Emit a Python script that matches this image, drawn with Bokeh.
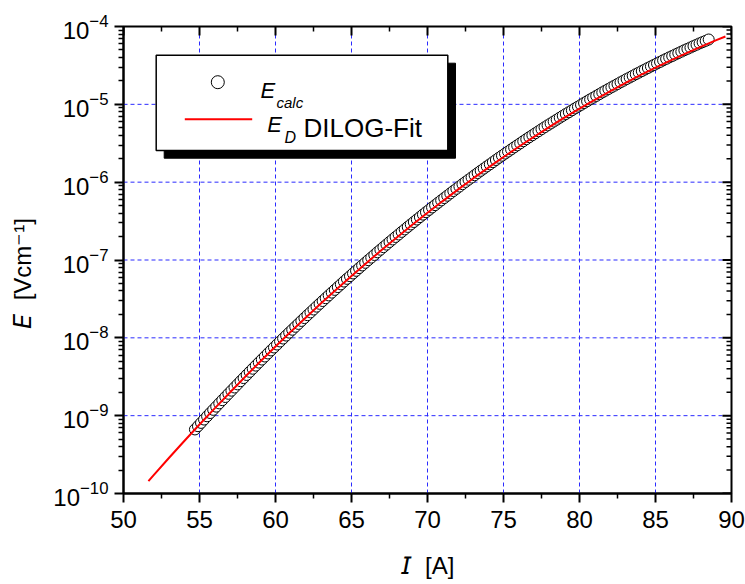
from bokeh.plotting import figure
from bokeh.models import Range1d, LinearScale, FixedTicker, Label
from bokeh.embed import file_html
from bokeh.resources import INLINE

# ---------------- data ----------------
I_calc = [
    54.7, 54.9, 55.1, 55.3, 55.5, 55.7, 55.9, 56.1, 56.3, 56.5,
    56.7, 56.9, 57.1, 57.3, 57.5, 57.7, 57.9, 58.1, 58.3, 58.5,
    58.7, 58.9, 59.1, 59.3, 59.5, 59.7, 59.9, 60.1, 60.3, 60.5,
    60.7, 60.9, 61.1, 61.3, 61.5, 61.7, 61.9, 62.1, 62.3, 62.5,
    62.7, 62.9, 63.1, 63.3, 63.5, 63.7, 63.9, 64.1, 64.3, 64.5,
    64.7, 64.9, 65.1, 65.3, 65.5, 65.7, 65.9, 66.1, 66.3, 66.5,
    66.7, 66.9, 67.1, 67.3, 67.5, 67.7, 67.9, 68.1, 68.3, 68.5,
    68.7, 68.9, 69.1, 69.3, 69.5, 69.7, 69.9, 70.1, 70.3, 70.5,
    70.7, 70.9, 71.1, 71.3, 71.5, 71.7, 71.9, 72.1, 72.3, 72.5,
    72.7, 72.9, 73.1, 73.3, 73.5, 73.7, 73.9, 74.1, 74.3, 74.5,
    74.7, 74.9, 75.1, 75.3, 75.5, 75.7, 75.9, 76.1, 76.3, 76.5,
    76.7, 76.9, 77.1, 77.3, 77.5, 77.7, 77.9, 78.1, 78.3, 78.5,
    78.7, 78.9, 79.1, 79.3, 79.5, 79.7, 79.9, 80.1, 80.3, 80.5,
    80.7, 80.9, 81.1, 81.3, 81.5, 81.7, 81.9, 82.1, 82.3, 82.5,
    82.7, 82.9, 83.1, 83.3, 83.5, 83.7, 83.9, 84.1, 84.3, 84.5,
    84.7, 84.9, 85.1, 85.3, 85.5, 85.7, 85.9, 86.1, 86.3, 86.5,
    86.7, 86.9, 87.1, 87.3, 87.5, 87.7, 87.9, 88.1, 88.3, 88.5,
]
logE_calc = [
    -9.177, -9.135, -9.093, -9.050, -9.008, -8.966, -8.925, -8.884, -8.842, -8.801,
    -8.760, -8.719, -8.679, -8.638, -8.598, -8.557, -8.517, -8.477, -8.437, -8.397,
    -8.357, -8.318, -8.279, -8.240, -8.201, -8.162, -8.124, -8.086, -8.047, -8.009,
    -7.971, -7.933, -7.896, -7.858, -7.821, -7.783, -7.746, -7.709, -7.673, -7.636,
    -7.599, -7.563, -7.527, -7.491, -7.455, -7.419, -7.384, -7.348, -7.313, -7.277,
    -7.242, -7.208, -7.173, -7.139, -7.104, -7.070, -7.036, -7.002, -6.969, -6.935,
    -6.901, -6.868, -6.835, -6.802, -6.769, -6.736, -6.704, -6.672, -6.639, -6.607,
    -6.575, -6.543, -6.512, -6.480, -6.449, -6.417, -6.386, -6.356, -6.325, -6.295,
    -6.264, -6.234, -6.204, -6.174, -6.144, -6.114, -6.085, -6.056, -6.026, -5.997,
    -5.968, -5.940, -5.911, -5.883, -5.854, -5.826, -5.798, -5.771, -5.743, -5.715,
    -5.687, -5.660, -5.633, -5.607, -5.580, -5.553, -5.527, -5.501, -5.474, -5.448,
    -5.422, -5.397, -5.371, -5.346, -5.320, -5.295, -5.270, -5.246, -5.221, -5.197,
    -5.172, -5.148, -5.124, -5.101, -5.077, -5.053, -5.030, -5.007, -4.983, -4.960,
    -4.937, -4.915, -4.892, -4.870, -4.847, -4.825, -4.803, -4.782, -4.760, -4.739,
    -4.717, -4.696, -4.675, -4.655, -4.634, -4.613, -4.593, -4.573, -4.553, -4.533,
    -4.513, -4.494, -4.474, -4.455, -4.435, -4.416, -4.397, -4.379, -4.360, -4.342,
    -4.323, -4.305, -4.287, -4.270, -4.252, -4.234, -4.217, -4.201, -4.184, -4.167,
]
I_fit = [51.64, 52, 53, 54, 55, 56, 57, 58, 59, 60, 61, 62, 63, 64, 65, 66, 67,
         68, 69, 70, 71, 72, 73, 74, 75, 76, 77, 78, 79, 80, 81, 82, 83, 84, 85,
         86, 87, 88, 89, 89.6]
logE_fit = [-9.840, -9.760, -9.541, -9.325, -9.114, -8.906, -8.702, -8.501, -8.305,
            -8.112, -7.923, -7.738, -7.557, -7.379, -7.205, -7.035, -6.869, -6.707,
            -6.548, -6.394, -6.243, -6.096, -5.952, -5.813, -5.677, -5.545, -5.417,
            -5.293, -5.172, -5.055, -4.942, -4.833, -4.728, -4.626, -4.529, -4.435,
            -4.345, -4.258, -4.176, -4.128]

x_major = [50, 55, 60, 65, 70, 75, 80, 85, 90]
x_minor = [52.5, 57.5, 62.5, 67.5, 72.5, 77.5, 82.5, 87.5]
y_exponents = [-10, -9, -8, -7, -6, -5, -4]

x_title = "\U0001D610\u00a0\u00a0[A]"                       # italic I, then [A]
y_title = "\U0001D60C\u00a0\u00a0[Vcm\u207b\u00b9]" + "\u00a0" * 4   # italic E [Vcm^-1]

E_calc = [10 ** v for v in logE_calc]
E_fit = [10 ** v for v in logE_fit]
y_major = [10.0 ** e for e in y_exponents]
y_minor = [k * 10.0 ** e for e in y_exponents[:-1] for k in range(2, 10)]

FONT = "Liberation Sans"
FRAME_W, FRAME_H = 608, 467
MAJ, MIN = 9, 5
GRID = "#2b2bff"

p = figure(width=745, height=584,
           x_range=Range1d(50, 90), y_range=Range1d(1e-10, 1e-4),
           y_axis_type="log", output_backend="svg", toolbar_location=None,
           min_border_left=123, min_border_right=14,
           min_border_top=26, min_border_bottom=91)
p.background_fill_color = "white"
p.border_fill_color = "white"
p.outline_line_color = "black"
p.outline_line_width = 2

p.extra_x_ranges = {"px": Range1d(0, FRAME_W)}
p.extra_y_ranges = {"px": Range1d(0, FRAME_H)}
p.extra_x_scales = {"px": LinearScale()}
p.extra_y_scales = {"px": LinearScale()}

bx = p.below[0]
ly = p.left[0]
for ax, tk in ((bx, FixedTicker(ticks=x_major, minor_ticks=x_minor)),
               (ly, FixedTicker(ticks=y_major, minor_ticks=y_minor))):
    ax.ticker = tk
    ax.axis_line_width = 2
    ax.axis_line_color = "black"
    ax.major_tick_line_width = 2
    ax.minor_tick_line_width = 1.5
    ax.major_tick_in = 0
    ax.major_tick_out = MAJ
    ax.minor_tick_in = 0
    ax.minor_tick_out = MIN
    ax.major_label_text_font = FONT
    ax.major_label_text_font_size = "24px"
    ax.major_label_text_color = "black"
    ax.axis_label_text_font = FONT
    ax.axis_label_text_font_size = "24px"
    ax.axis_label_text_font_style = "normal"
    ax.axis_label_text_color = "black"
bx.major_label_standoff = 8
ly.major_label_standoff = 6
bx.axis_label = x_title
ly.axis_label = y_title
bx.axis_label_standoff = 21
ly.axis_label_standoff = 14

# built-in grids off; dashed blue grid lines drawn at the major ticks
p.xgrid.visible = False
p.ygrid.visible = False
xg = x_major[1:-1]
yg = y_major[1:-1]
p.segment(x0=[x_major[0]] * len(yg), y0=yg, x1=[x_major[-1]] * len(yg), y1=yg,
          line_color=GRID, line_width=1, line_dash="4 3")
p.multi_line(xs=[[x, x] for x in xg], ys=[[y_major[0], y_major[-1]] for _ in xg],
             line_color=GRID, line_width=1, line_dash="4 3")

# mirrored inward ticks on the top and right frame edges
p.segment(x0=x_major, y0=[FRAME_H] * len(x_major), x1=x_major,
          y1=[FRAME_H - MAJ] * len(x_major), line_color="black", line_width=2,
          y_range_name="px")
p.segment(x0=x_minor, y0=[FRAME_H] * len(x_minor), x1=x_minor,
          y1=[FRAME_H - MIN] * len(x_minor), line_color="black", line_width=1.5,
          y_range_name="px")
p.segment(x0=[FRAME_W] * len(y_major), y0=y_major, x1=[FRAME_W - MAJ] * len(y_major),
          y1=y_major, line_color="black", line_width=2, x_range_name="px")
p.segment(x0=[FRAME_W] * len(y_minor), y0=y_minor, x1=[FRAME_W - MIN] * len(y_minor),
          y1=y_minor, line_color="black", line_width=1.5, x_range_name="px")

# data
p.scatter(I_calc, E_calc, marker="circle", size=11, fill_color="white",
          line_color="black", line_width=1)
p.line(I_fit, E_fit, line_color="#ff0000", line_width=2)

# legend box (frame pixel coordinates)
p.quad(left=[40.7], right=[332], top=[430.3], bottom=[335.3], fill_color="black",
       line_color="black", x_range_name="px", y_range_name="px")
p.quad(left=[32.7], right=[324.3], top=[438.3], bottom=[343], fill_color="white",
       line_color="black", line_width=1.5, x_range_name="px", y_range_name="px")
p.scatter([94.3], [411.3], marker="circle", size=13, fill_color="white",
          line_color="black", line_width=1, x_range_name="px", y_range_name="px")
p.segment(x0=[61.3], y0=[374.3], x1=[128.7], y1=[374.3], line_color="#ff0000",
          line_width=2, x_range_name="px", y_range_name="px")


def mk(x, y, text, size, style="normal"):
    return Label(x=x, y=y, x_units="screen", y_units="screen", text=text,
                 text_font=FONT, text_font_size=size, text_font_style=style,
                 text_color="black", text_align="left",
                 text_baseline="alphabetic")


for args in ((137, 403, "E", "22px", "italic"),
             (153, 391.3, "calc", "15px", "italic"),
             (143.7, 369, "E", "22px", "italic"),
             (161, 355.7, "D", "16px", "italic"),
             (180, 365.7, "DILOG-Fit", "26px")):
    p.add_layout(mk(*args))

open("out.html", "w").write(file_html(p, INLINE))
